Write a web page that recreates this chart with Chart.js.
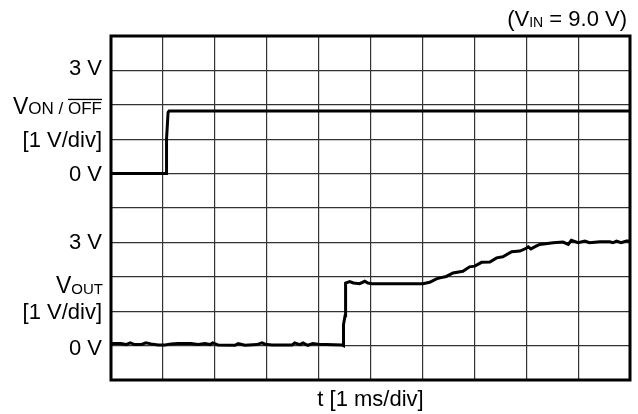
<!DOCTYPE html>
<html>
<head>
<meta charset="utf-8">
<script src="https://cdn.jsdelivr.net/npm/chart.js@4.4.1/dist/chart.umd.min.js"></script>
<style>
  html, body { margin: 0; padding: 0; background: #fff; }
  #wrap { width: 638px; height: 414px; }
</style>
</head>
<body>
<div id="wrap"><canvas id="scope"></canvas></div>
<script>
// time axis in ms (1 ms/div), 10 divisions
const timeMin = 0;
const timeMax = 10;

// V_ON/OFF trace (top channel, 1 V/div)
const onOffTime = [0, 1.06, 1.07, 1.10, 1.12, 10];
const onOffVolt = [0, 0, 1.0, 1.78, 1.82, 1.82];

// V_OUT trace (bottom channel, 1 V/div)
const outTime = [
  0, 0.04, 0.19, 0.29, 0.37, 0.46, 0.58, 0.67, 0.77, 0.91, 1.04, 1.16, 1.29, 1.54,
  1.68, 1.81, 1.91, 1.96, 2.06, 2.39, 2.45, 2.58, 2.81, 2.91, 2.97, 3.10, 3.49,
  3.54, 3.64, 3.70, 3.79, 3.89, 3.99, 4.45, 4.48, 4.48, 4.51, 4.52, 4.60, 4.67,
  4.79, 4.89, 4.95, 5.03, 6.01, 6.14, 6.27, 6.34, 6.46, 6.59, 6.78, 6.91, 7.01,
  7.14, 7.30, 7.43, 7.55, 7.72, 7.88, 8.00, 8.04, 8.09, 8.19, 8.26, 8.52, 8.71,
  8.81, 8.87, 9.00, 9.13, 9.22, 9.42, 9.61, 9.67, 9.74, 9.83, 9.93, 10
];
const outVolt = [
  0.04, 0.06, 0.06, 0.03, 0.08, 0.03, 0.03, 0.08, 0.05, 0.02, 0.02, 0.05, 0.06, 0.06,
  0.03, 0.06, 0.03, 0.08, 0.02, 0.01, 0.06, 0.01, 0.03, 0.08, 0.04, 0.02, 0.02,
  0.08, 0.03, 0.08, 0.01, 0.06, 0.04, 0.02, 0.0, 0.61, 0.87, 1.82, 1.86, 1.82,
  1.80, 1.87, 1.82, 1.80, 1.80, 1.84, 1.94, 1.97, 2.01, 2.11, 2.16, 2.29, 2.31,
  2.42, 2.43, 2.55, 2.58, 2.73, 2.75, 2.83, 2.87, 2.81, 2.89, 2.94, 2.99, 3.01,
  2.94, 3.06, 2.99, 3.04, 2.99, 3.02, 3.02, 2.99, 3.04, 2.99, 3.04, 3.04
];

// channel offsets on screen: each channel shows -1 V .. 4 V over its half
const onOffRange = [-6, 4];   // 0 V sits on the 6th division
const outRange = [-1, 9];     // 0 V sits on the 1st division

const textFont = '"Liberation Sans", Arial, sans-serif';

function toPoints(xs, ys) {
  return xs.map((x, i) => ({ x: x, y: ys[i] }));
}

// labels, frame and title drawn by hand (subscripts and overline)
const scopeText = {
  id: 'scopeText',
  afterDraw(chart) {
    const ctx = chart.ctx;
    const area = chart.chartArea;
    const yOn = chart.scales.yOn;
    const yOut = chart.scales.yOut;
    const right = area.left - 9;
    ctx.save();
    ctx.fillStyle = '#000';
    ctx.textBaseline = 'middle';
    ctx.textAlign = 'right';
    ctx.font = '22px ' + textFont;

    ctx.fillText('3 V', right, yOn.getPixelForValue(3) - 1);
    ctx.fillText('0 V', right, yOn.getPixelForValue(0) + 1);
    ctx.fillText('[1 V/div]', right, yOn.getPixelForValue(1) + 2);
    ctx.fillText('3 V', right, yOut.getPixelForValue(3) + 1);
    ctx.fillText('0 V', right, yOut.getPixelForValue(0) + 3);
    ctx.fillText('[1 V/div]', right, yOut.getPixelForValue(1) + 2);

    // V ON / OFF with small caps and overline
    ctx.textBaseline = 'alphabetic';
    let base = yOn.getPixelForValue(2) + 9;
    ctx.font = '17px ' + textFont;
    const offW = ctx.measureText('OFF').width;
    ctx.fillText('OFF', right, base);
    const offLeft = right - offW;
    ctx.fillRect(offLeft, base - 15, offW, 1.3);
    ctx.fillText('ON / ', offLeft, base);
    const onW = ctx.measureText('ON / ').width;
    ctx.font = '23px ' + textFont;
    ctx.fillText('V', offLeft - onW, base);

    // V OUT
    base = yOut.getPixelForValue(2) + 17;
    ctx.font = '15px ' + textFont;
    ctx.fillText('OUT', right + 1, base);
    const outW = ctx.measureText('OUT').width;
    ctx.font = '23px ' + textFont;
    ctx.fillText('V', right + 1 - outW, base - 1);

    // time axis title
    ctx.textAlign = 'center';
    ctx.textBaseline = 'middle';
    ctx.font = '22px ' + textFont;
    ctx.fillText('t [1 ms/div]', (area.left + area.right) / 2, area.bottom + 20);

    // (V IN = 9.0 V)
    ctx.textAlign = 'right';
    ctx.textBaseline = 'alphabetic';
    const tb = 26;
    let tx = area.right - 3;
    ctx.fillText(' = 9.0 V)', tx, tb);
    tx -= ctx.measureText(' = 9.0 V)').width;
    ctx.font = '14px ' + textFont;
    ctx.fillText('IN', tx, tb + 1);
    tx -= ctx.measureText('IN').width;
    ctx.font = '22px ' + textFont;
    ctx.fillText('(V', tx, tb);

    // heavy frame
    ctx.lineWidth = 3;
    ctx.strokeStyle = '#000';
    ctx.strokeRect(area.left, area.top, area.right - area.left, area.bottom - area.top);
    ctx.restore();
  }
};

const canvas = document.getElementById('scope');
const context = canvas.getContext('2d');

new Chart(context, {
  type: 'line',
  data: {
    datasets: [{
      label: 'V_ON/OFF',
      data: toPoints(onOffTime, onOffVolt),
      yAxisID: 'yOn',
      borderColor: '#000',
      borderWidth: 3,
      pointRadius: 0,
      tension: 0
    }, {
      label: 'V_OUT',
      data: toPoints(outTime, outVolt),
      yAxisID: 'yOut',
      borderColor: '#000',
      borderWidth: 3,
      pointRadius: 0,
      tension: 0
    }]
  },
  options: {
    responsive: true,
    maintainAspectRatio: false,
    animation: false,
    layout: { padding: { left: 0, right: 8, top: 36, bottom: 0 } },
    plugins: {
      legend: { display: false },
      tooltip: { enabled: false }
    },
    scales: {
      x: {
        type: 'linear',
        min: timeMin,
        max: timeMax,
        ticks: { display: false, stepSize: 1 },
        grid: { color: '#333', lineWidth: 1.2, drawTicks: false },
        border: { display: false },
        afterFit(scale) { scale.height = 34; }
      },
      y: {
        type: 'linear',
        min: 0,
        max: 10,
        position: 'left',
        ticks: { display: false, stepSize: 1 },
        grid: { color: '#333', lineWidth: 1.2, drawTicks: false },
        border: { display: false },
        afterFit(scale) { scale.width = 111; }
      },
      yOn: {
        type: 'linear',
        display: false,
        min: onOffRange[0],
        max: onOffRange[1]
      },
      yOut: {
        type: 'linear',
        display: false,
        min: outRange[0],
        max: outRange[1]
      }
    }
  },
  plugins: [scopeText]
});
</script>
</body>
</html>
